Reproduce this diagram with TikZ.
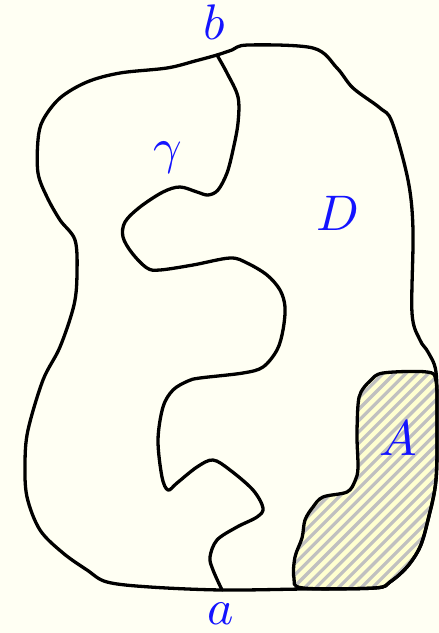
\documentclass[tikz,border=0pt]{standalone}
\usetikzlibrary{calc}
\definecolor{bgivory}{RGB}{255,255,243}
\definecolor{hatchyellow}{RGB}{255,255,208}
\definecolor{hatchgray}{RGB}{192,192,192}
\definecolor{lblue}{RGB}{20,20,255}
\tikzset{
  curve/.style={line width=3.3pt, line join=round, line cap=round, black},
  lbl/.style={text=lblue, scale=5, inner sep=0pt},
}
\begin{document}
\begin{tikzpicture}[x=1pt,y=-1pt]
\fill[bgivory] (0,0) rectangle (439,633);
\useasboundingbox (0,0) rectangle (439,633);
% region A: fill and hatching
\def\Apath{plot[smooth cycle, tension=0.55] coordinates {(383,373) (427,372) (436,381) (437,420) (436,480) (428,520) (420,547) (407,567) (390,582) (375,588) (303,588) (294,578) (295,557) (302,538) (305,520) (313,507) (323,497) (347,492) (355,481) (358,468) (357,437) (358,405) (361,392) (370,381)}}
\fill[hatchyellow] \Apath;
\begin{scope}
  \clip \Apath;
  \foreach \c in {0,...,36}{
    \draw[hatchgray, line width=3.2pt] ({655+\c*11.3-620},620) -- ({655+\c*11.3-340},340);
  }
\end{scope}
% outer boundary of D
\draw[curve] plot[smooth cycle, tension=0.55] coordinates {(217,55) (232,50) (248,45) (313,48) (337,68) (353,88) (380,108) (392,122) (408,180) (413,230) (412,313) (420,340) (428,352) (436,372) (437,420) (436,480) (428,520) (420,547) (407,567) (390,582) (375,588) (303,589) (222,590) (150,587) (107,582) (87,570) (63,553) (40,530) (27,497) (25,463) (28,430) (43,380) (60,347) (74,305) (77,273) (75,240) (60,220) (47,197) (38,173) (38,140) (43,120) (60,98) (87,82) (120,73) (167,68) (195,61)};
\draw[curve] \Apath;
% curve gamma from b to a
\coordinate (pb) at (217,55);
\coordinate (pa) at (222,590);
\draw[curve] plot[smooth, tension=0.55] coordinates {(217,55) (227,73) (238,97) (238,123) (233,150) (227,173) (218,190) (208,195) (197,192) (180,187) (163,192) (140,207) (125,222) (123,237) (132,253) (147,268) (160,270) (193,265) (230,258) (247,263) (267,275) (280,290) (285,307) (283,330) (277,350) (263,367) (243,373) (200,378) (188,381) (173,390) (163,407) (158,440) (162,477) (168,490) (177,483) (197,467) (213,460) (230,470) (253,490) (263,508) (257,517) (237,527) (217,540) (210,557) (213,570) (222,590)};
% labels
\node[lbl] (lb) at (214,22) {$b$};
\node[lbl] (lg) at (168,158) {$\gamma$};
\node[lbl] (lD) at (338,213) {$D$};
\node[lbl] (lA) at (398,438) {$A$};
\node[lbl] (la) at (221,614) {$a$};
\end{tikzpicture}
\end{document}
